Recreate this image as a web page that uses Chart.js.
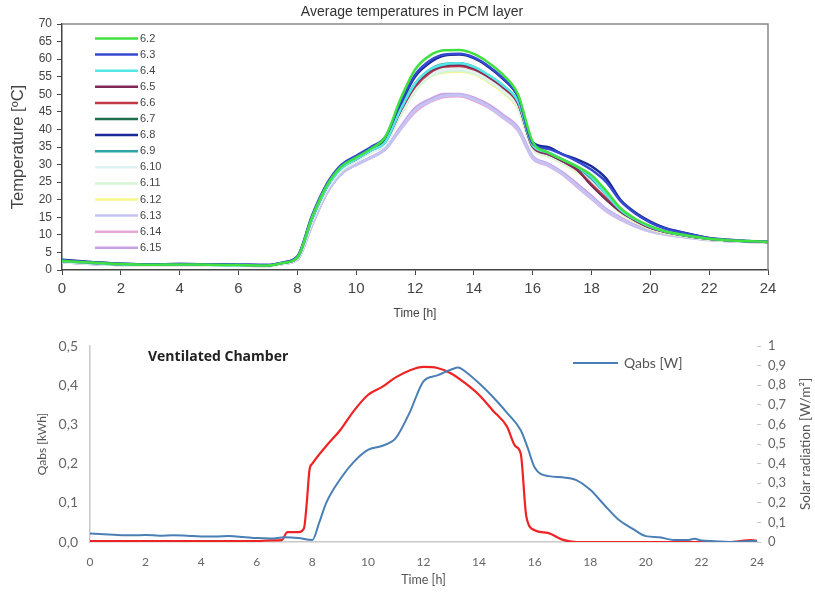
<!DOCTYPE html>
<html>
<head>
<meta charset="utf-8">
<script src="https://cdn.jsdelivr.net/npm/chart.js@4.4.1/dist/chart.umd.min.js"></script>
<style>
  html,body{margin:0;padding:0;background:#fff;}
  #c1{position:absolute;left:0;top:0;}
  #c2{position:absolute;left:0;top:325px;}
</style>
</head>
<body>
<canvas id="c1" width="815" height="325" style="width:815px;height:325px"></canvas>
<canvas id="c2" width="815" height="268" style="width:815px;height:268px"></canvas>
<script>
// ---------- TOP CHART DATA ----------
const times = [0,1,2,3,4,5,6,7,7.5,8,8.5,9,9.5,10,10.5,11,11.5,12,12.5,13,13.5,14,14.5,15,15.5,16,16.5,17,17.5,18,18.5,19,19.5,20,20.5,21,22,23,24];
const labels = ['6.2','6.3','6.4','6.5','6.6','6.7','6.8','6.9','6.10','6.11','6.12','6.13','6.14','6.15'];
const s62 = [2.6,2.1,1.7,1.5,1.6,1.5,1.4,1.3,2.0,3.6,15.0,24.0,29.5,32.0,34.5,38.0,48.5,57.0,61.0,62.5,62.6,61.5,59.0,55.5,50.0,36.5,33.5,31.5,29.5,27.0,22.5,17.5,14.5,12.5,11.0,10.2,8.9,8.3,8.0];
const s63 = [2.8,2.2,1.8,1.6,1.7,1.6,1.5,1.4,2.1,3.8,15.5,24.5,30.0,32.5,35.0,38.0,47.5,55.5,59.5,61.3,61.5,60.5,58.0,54.5,49.5,36.0,34.5,33.0,31.0,28.5,25.0,19.5,16.0,13.5,11.8,10.8,9.0,8.3,8.0];
const s64 = [2.5,2.0,1.6,1.5,1.6,1.5,1.4,1.3,2.0,3.5,14.5,23.5,29.0,31.5,34.0,36.5,45.5,53.0,57.0,58.5,58.8,57.8,55.5,52.5,48.0,35.5,33.5,31.5,29.5,26.5,21.5,17.0,14.3,12.3,11.0,10.1,8.9,8.3,8.0];
const s65 = [2.5,2.0,1.6,1.5,1.6,1.5,1.4,1.3,2.0,3.5,14.5,23.5,29.0,31.5,34.0,36.5,45.0,52.5,56.5,58.0,58.3,57.3,55.0,52.0,47.5,35.0,33.0,31.0,28.5,24.0,20.0,16.5,14.0,12.0,10.8,10.0,8.8,8.3,8.0];
const s66 = [2.5,2.0,1.6,1.5,1.6,1.5,1.4,1.3,2.0,3.5,14.5,23.5,29.0,31.5,34.0,36.5,45.0,52.0,56.0,57.8,58.0,57.0,54.8,51.8,47.3,35.0,33.0,31.0,28.5,24.5,20.5,16.8,14.0,12.0,10.8,10.0,8.8,8.3,8.0];
const s67 = [2.6,2.0,1.6,1.5,1.6,1.5,1.4,1.3,2.0,3.6,14.8,23.8,29.3,31.8,34.3,37.0,45.5,52.5,56.5,58.0,58.2,57.2,55.0,52.0,47.5,35.3,33.3,31.2,28.8,24.0,20.0,16.5,14.0,12.0,10.8,10.0,8.8,8.3,8.0];
const s68 = [2.9,2.3,1.8,1.6,1.7,1.6,1.5,1.4,2.1,3.8,15.0,24.0,29.5,32.0,34.5,37.5,47.0,55.0,59.0,61.0,61.3,60.3,57.8,54.3,49.3,36.3,35.0,33.0,31.5,29.5,26.0,19.8,16.3,13.8,12.0,10.9,9.1,8.4,8.0];
const s69 = [2.5,2.0,1.6,1.5,1.6,1.5,1.4,1.3,2.0,3.5,14.6,23.6,29.1,31.6,34.1,36.8,45.8,53.0,57.0,58.6,58.8,57.8,55.3,52.3,47.8,35.5,33.5,31.5,29.3,26.0,21.5,17.0,14.3,12.2,11.0,10.1,8.9,8.3,8.0];
const s610 = [2.4,1.9,1.5,1.4,1.5,1.4,1.3,1.2,1.9,3.3,14.0,23.0,28.5,31.0,33.5,36.0,44.5,51.5,55.5,57.0,57.3,56.3,54.0,51.0,46.5,34.8,32.8,30.8,28.5,25.5,21.0,16.8,14.0,12.0,10.8,10.0,8.8,8.3,8.0];
const s611 = [2.4,1.9,1.5,1.4,1.5,1.4,1.3,1.2,1.9,3.3,14.0,23.0,28.5,31.0,33.5,36.0,44.0,51.0,55.0,56.5,56.8,56.0,53.8,50.8,46.3,34.5,32.5,30.5,28.2,25.0,20.5,16.5,13.8,11.9,10.7,9.9,8.8,8.3,8.0];
const s612 = [2.4,1.9,1.5,1.4,1.5,1.4,1.3,1.2,1.9,3.3,14.0,23.0,28.5,31.0,33.5,36.0,44.0,51.0,55.0,56.3,56.5,55.8,53.5,50.5,46.0,34.5,32.5,30.5,28.0,24.8,20.3,16.3,13.7,11.8,10.6,9.9,8.8,8.3,8.0];
const s613 = [2.3,1.8,1.5,1.4,1.5,1.4,1.3,1.2,1.8,3.0,13.0,22.0,27.5,30.0,32.0,34.5,40.0,45.5,48.0,49.6,49.8,48.6,46.5,43.5,40.0,32.0,30.0,27.5,24.0,20.5,17.0,14.5,12.5,11.0,10.2,9.6,8.6,8.2,8.0];
const s614 = [2.3,1.8,1.5,1.4,1.5,1.4,1.3,1.2,1.8,3.0,13.0,22.0,27.5,30.0,32.0,34.5,40.0,45.0,47.8,49.3,49.5,48.3,46.3,43.3,39.8,31.8,29.8,27.3,23.8,20.3,16.8,14.3,12.4,11.0,10.2,9.6,8.6,8.2,8.0];
const s615 = [2.3,1.8,1.5,1.4,1.5,1.4,1.3,1.2,1.8,3.0,13.0,22.0,27.5,30.0,32.0,34.5,40.5,46.0,48.5,50.0,50.0,49.0,47.0,44.0,40.5,32.3,30.3,27.8,24.5,21.0,17.3,14.8,12.7,11.2,10.3,9.7,8.7,8.2,8.0];
const tempTicks = [0,5,10,15,20,25,30,35,40,45,50,55,60,65,70];
const hourTicks = [0,2,4,6,8,10,12,14,16,18,20,22,24];

// ---------- BOTTOM CHART DATA ----------
const qTimes = [0,0.5,1,1.5,2,2.5,3,3.5,4,4.5,5,5.5,6,6.5,7,7.5,8,8.25,8.5,9,9.5,10,10.5,11,11.5,12,12.5,13,13.25,13.5,14,14.5,15,15.5,15.75,16,16.5,17,17.5,18,18.5,19,19.5,20,20.5,21,21.5,21.75,22,22.5,23,23.5,24];
const qabs = [0.022,0.02,0.018,0.017,0.018,0.016,0.017,0.016,0.014,0.014,0.015,0.013,0.01,0.009,0.012,0.01,0.005,0.05,0.1,0.16,0.205,0.235,0.245,0.265,0.33,0.41,0.425,0.44,0.445,0.435,0.405,0.37,0.33,0.285,0.24,0.19,0.168,0.165,0.158,0.133,0.095,0.058,0.035,0.015,0.012,0.005,0.005,0.008,0.004,0.002,0.0,0.001,0.003];
const sTimes = [0,6,6.5,6.9,7.1,7.5,7.7,7.8,7.9,8,8.5,9,9.5,10,10.5,11,11.5,12,12.5,13,13.5,14,14.5,15,15.3,15.5,15.7,16,16.5,17,17.5,20,23,23.8,24];
const solar = [0.005,0.005,0.008,0.01,0.05,0.05,0.07,0.2,0.37,0.40,0.49,0.57,0.67,0.75,0.79,0.84,0.875,0.893,0.888,0.86,0.81,0.75,0.67,0.59,0.49,0.45,0.13,0.06,0.045,0.012,0.0,0.0,0.0,0.01,0.005];

// ---------- TOP CHART ----------
const series = [s62,s63,s64,s65,s66,s67,s68,s69,s610,s611,s612,s613,s614,s615];
const colors = ['#3fe03f','#3448d0','#55e6e6','#802a5a','#c23a48','#1f6e4e','#1b2a96','#2fa3a8','#dff3f3','#d6f4d6','#f6f68a','#c4c4f4','#e8a8d8','#c8a2e4'];
const widths = [2.5,2.5,2.5,2,2,2,2.5,2.5,3,3,3,3,3,3];

const topDatasets = series.map((s,i)=>({
  label: labels[i],
  data: s.map((v,j)=>({x:times[j], y:v})),
  borderColor: colors[i],
  backgroundColor: colors[i],
  borderWidth: widths[i],
  pointRadius: 0,
  cubicInterpolationMode: 'monotone',
  fill: false
}));

const topDeco = {
  id: 'topDeco',
  afterDraw(chart){
    const {ctx, chartArea:{left,right,top,bottom}} = chart;
    ctx.save();
    ctx.strokeStyle = '#888';
    ctx.lineWidth = 1.5;
    ctx.beginPath();
    ctx.moveTo(left, top); ctx.lineTo(right, top); ctx.lineTo(right, bottom);
    ctx.stroke();
    ctx.fillStyle = '#333';
    ctx.font = '14px "Liberation Sans", Arial, sans-serif';
    ctx.textAlign = 'center'; ctx.textBaseline = 'middle';
    ctx.fillText('Average temperatures in PCM layer', 412, 12);
    // legend
    ctx.font = '11px "Liberation Sans", Arial, sans-serif';
    ctx.textAlign = 'left';
    chart.data.datasets.forEach((ds,i)=>{
      const y = 38.5 + i*16.1;
      ctx.strokeStyle = ds.borderColor;
      ctx.lineWidth = 2.5;
      ctx.beginPath(); ctx.moveTo(95,y); ctx.lineTo(138,y); ctx.stroke();
      ctx.fillStyle = '#444';
      ctx.fillText(ds.label, 140, y);
    });
    ctx.restore();
  }
};

new Chart(document.getElementById('c1'), {
  type: 'line',
  data: { datasets: topDatasets },
  options: {
    responsive: false,
    animation: false,
    layout: { padding: { left: 0, right: 47, top: 24, bottom: 0 } },
    plugins: { legend: { display: false }, tooltip: { enabled: false }, title: { display: false } },
    scales: {
      x: {
        type: 'linear', min: 0, max: 24,
        afterBuildTicks: (s)=>{ s.ticks = hourTicks.map(v=>({value:v})); },
        afterFit: (s)=>{ s.height = 55; },
        grid: { drawOnChartArea: false, drawTicks: true, tickLength: 5, color: '#444' },
        border: { color: '#444', width: 1.5 },
        ticks: { padding: 5, color: '#444', font: { family: '"Liberation Sans", Arial', size: 15 } },
        title: { display: true, text: 'Time [h]', color: '#444', padding: { top: 0, bottom: 4 }, font: { family: '"Liberation Sans", Arial', size: 12 } }
      },
      y: {
        min: 0, max: 70,
        afterBuildTicks: (s)=>{ s.ticks = tempTicks.map(v=>({value:v})); },
        afterFit: (s)=>{ s.width = 62; },
        grid: { drawOnChartArea: false, drawTicks: true, tickLength: 5, color: '#444' },
        border: { color: '#444', width: 1.5 },
        ticks: { padding: 5, color: '#444', font: { family: '"Liberation Sans", Arial', size: 12 } },
        title: { display: true, text: 'Temperature [ºC]', color: '#444', padding: { top: 9, bottom: 0 }, font: { family: '"Liberation Sans", Arial', size: 16.5 } }
      }
    }
  },
  plugins: [topDeco]
});

// ---------- BOTTOM CHART ----------
const bottomDeco = {
  id: 'bottomDeco',
  afterDraw(chart){
    const {ctx, chartArea:{top,bottom}} = chart;
    ctx.save();
    ctx.fillStyle = '#222';
    ctx.font = 'bold 14px "Open Sans", Lato, sans-serif';
    ctx.textAlign = 'left'; ctx.textBaseline = 'middle';
    ctx.fillText('Ventilated Chamber', 148, 32);
    // legend
    ctx.strokeStyle = '#4a7fb5'; ctx.lineWidth = 2;
    ctx.beginPath(); ctx.moveTo(573, 38); ctx.lineTo(618, 38); ctx.stroke();
    ctx.fillStyle = '#555';
    ctx.font = '14px Lato, "Open Sans", sans-serif';
    ctx.fillText('Qabs [W]', 624, 38);
    // right axis title (reads bottom to top)
    ctx.translate(806, (top+bottom)/2);
    ctx.rotate(-Math.PI/2);
    ctx.textAlign = 'center';
    ctx.font = '13.5px Lato, "Open Sans", sans-serif';
    ctx.fillStyle = '#555';
    ctx.fillText('Solar radiation [W/m²]', 0, 0);
    ctx.restore();
  }
};

const commaFmt = (v)=> (Math.round(v*10)/10).toFixed(1).replace('.', ',');
const commaFmtR = (v)=> { const r = Math.round(v*10)/10; return (r===0||r===1) ? String(r) : r.toFixed(1).replace('.', ','); };

new Chart(document.getElementById('c2'), {
  type: 'line',
  data: {
    datasets: [
      {
        label: 'Qabs [W]',
        data: qabs.map((v,i)=>({x:qTimes[i], y:v})),
        borderColor: '#4a7fb5', borderWidth: 2, pointRadius: 0,
        cubicInterpolationMode: 'monotone', yAxisID: 'y'
      },
      {
        label: 'Solar radiation',
        data: solar.map((v,i)=>({x:sTimes[i], y:v})),
        borderColor: '#ee2424', borderWidth: 2.2, pointRadius: 0,
        cubicInterpolationMode: 'monotone', yAxisID: 'y2'
      }
    ]
  },
  options: {
    responsive: false,
    animation: false,
    layout: { padding: { left: 0, right: 0, top: 21, bottom: 0 } },
    plugins: { legend: { display: false }, tooltip: { enabled: false } },
    scales: {
      x: {
        type: 'linear', min: 0, max: 24,
        afterBuildTicks: (s)=>{ s.ticks = hourTicks.map(v=>({value:v})); },
        afterFit: (s)=>{ s.height = 51; },
        grid: { drawOnChartArea: false, drawTicks: false },
        border: { color: '#c8c8c8', width: 1.5 },
        ticks: { padding: 13, color: '#666', font: { family: 'Lato, "Open Sans"', size: 12 } },
        title: { display: true, text: 'Time [h]', color: '#555', padding: { top: 0, bottom: 6 }, font: { family: 'Lato, "Open Sans"', size: 12.5 } }
      },
      y: {
        position: 'left', min: 0, max: 0.5,
        afterBuildTicks: (s)=>{ s.ticks = [0,0.1,0.2,0.3,0.4,0.5].map(v=>({value:v})); },
        afterFit: (s)=>{ s.width = 90; },
        grid: { drawOnChartArea: false, drawTicks: false },
        border: { color: '#c8c8c8', width: 1.5 },
        ticks: { padding: 12, color: '#666', font: { family: 'Lato, "Open Sans"', size: 14 }, callback: (v)=>commaFmt(v) },
        title: { display: true, text: 'Qabs [kWh]', color: '#555', padding: { top: 35, bottom: 0 }, font: { family: 'Lato, "Open Sans"', size: 12 } }
      },
      y2: {
        position: 'right', min: 0, max: 1,
        afterBuildTicks: (s)=>{ s.ticks = [0,0.1,0.2,0.3,0.4,0.5,0.6,0.7,0.8,0.9,1].map(v=>({value:v})); },
        afterFit: (s)=>{ s.width = 58; },
        grid: { drawOnChartArea: false, drawTicks: true, tickLength: 4, color: '#c8c8c8' },
        border: { display: false },
        ticks: { padding: 7, color: '#666', font: { family: 'Lato, "Open Sans"', size: 13 }, callback: (v)=>commaFmtR(v) }
      }
    }
  },
  plugins: [bottomDeco]
});
</script>
</body>
</html>
